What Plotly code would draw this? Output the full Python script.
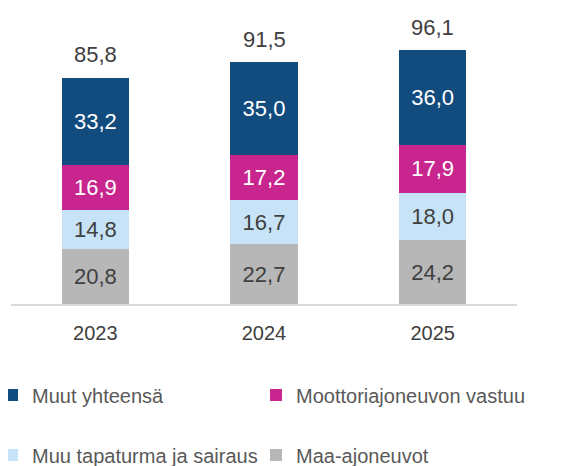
import plotly.graph_objects as go

years = ["2023", "2024", "2025"]
maa_ajoneuvot = [20.8, 22.7, 24.2]
muu_tapaturma = [14.8, 16.7, 18.0]
moottori_vastuu = [16.9, 17.2, 17.9]
muut_yhteensa = [33.2, 35.0, 36.0]
totals = [85.8, 91.5, 96.1]

FONT = "Arial, Liberation Sans, sans-serif"
DARK = "#404040"
OFF = 8  # page body margin
W, H = 583 - OFF, 466 - OFF

fig = go.Figure()

def fmt(v):
    return f"{v:.1f}".replace(".", ",")

def add_bar(name, vals, color, txtcolor, legend):
    fig.add_trace(go.Bar(
        x=years, y=vals, name=name, marker=dict(color=color, line=dict(width=0)),
        text=[fmt(v) for v in vals],
        textposition="inside", insidetextanchor="middle",
        textfont=dict(family=FONT, size=22, color=txtcolor),
        hoverinfo="skip", legend=legend,
    ))

add_bar("Maa-ajoneuvot", maa_ajoneuvot, "#B7B7B7", DARK, "legend4")
add_bar("Muu tapaturma ja sairaus", muu_tapaturma, "#C6E3F7", DARK, "legend3")
add_bar("Moottoriajoneuvon vastuu", moottori_vastuu, "#C8268E", "white", "legend2")
add_bar("Muut yhteensä", muut_yhteensa, "#124B7D", "white", "legend")

# category axis: annotations use the category index
for i, t in enumerate(totals):
    fig.add_annotation(
        x=i, y=t, text=fmt(t), showarrow=False,
        yanchor="middle", yshift=23,
        font=dict(family=FONT, size=22, color=DARK),
    )

legend_common = dict(
    orientation="h",
    font=dict(family=FONT, size=20, color="#595959"),
    itemwidth=30, xanchor="left", yanchor="middle",
    bgcolor="rgba(0,0,0,0)",
)

# plot area (page px): baseline at y=304, top at y=40
top, bottom = 40 - OFF, 304 - OFF
ph = bottom - top
def ypaper(pix):
    return (bottom - (pix - OFF)) / ph

col1_x = (-8 - OFF) / W
col2_x = (256 - OFF) / W
row1_y = ypaper(395)
row2_y = ypaper(455)

fig.update_layout(
    width=W, height=H,
    margin=dict(l=0, r=0, t=top, b=H - bottom, autoexpand=False),
    paper_bgcolor="white", plot_bgcolor="white",
    barmode="stack", bargap=0.6,
    showlegend=True,
    legend=dict(x=col1_x, y=row1_y, **legend_common),
    legend2=dict(x=col2_x, y=row1_y, **legend_common),
    legend3=dict(x=col1_x, y=row2_y, **legend_common),
    legend4=dict(x=col2_x, y=row2_y, **legend_common),
    xaxis=dict(
        type="category", range=[-0.5, len(years) - 0.5],
        domain=[(11 - OFF) / W, (517 - OFF) / W],
        showline=True, linecolor="#D9D9D9", linewidth=2,
        showgrid=False, ticks="", ticklabelstandoff=10,
        tickfont=dict(family=FONT, size=20, color=DARK),
    ),
    yaxis=dict(range=[0, 100], visible=False, showgrid=False),
    uniformtext=dict(minsize=8, mode="show"),
)

fig.write_html("out.html")
